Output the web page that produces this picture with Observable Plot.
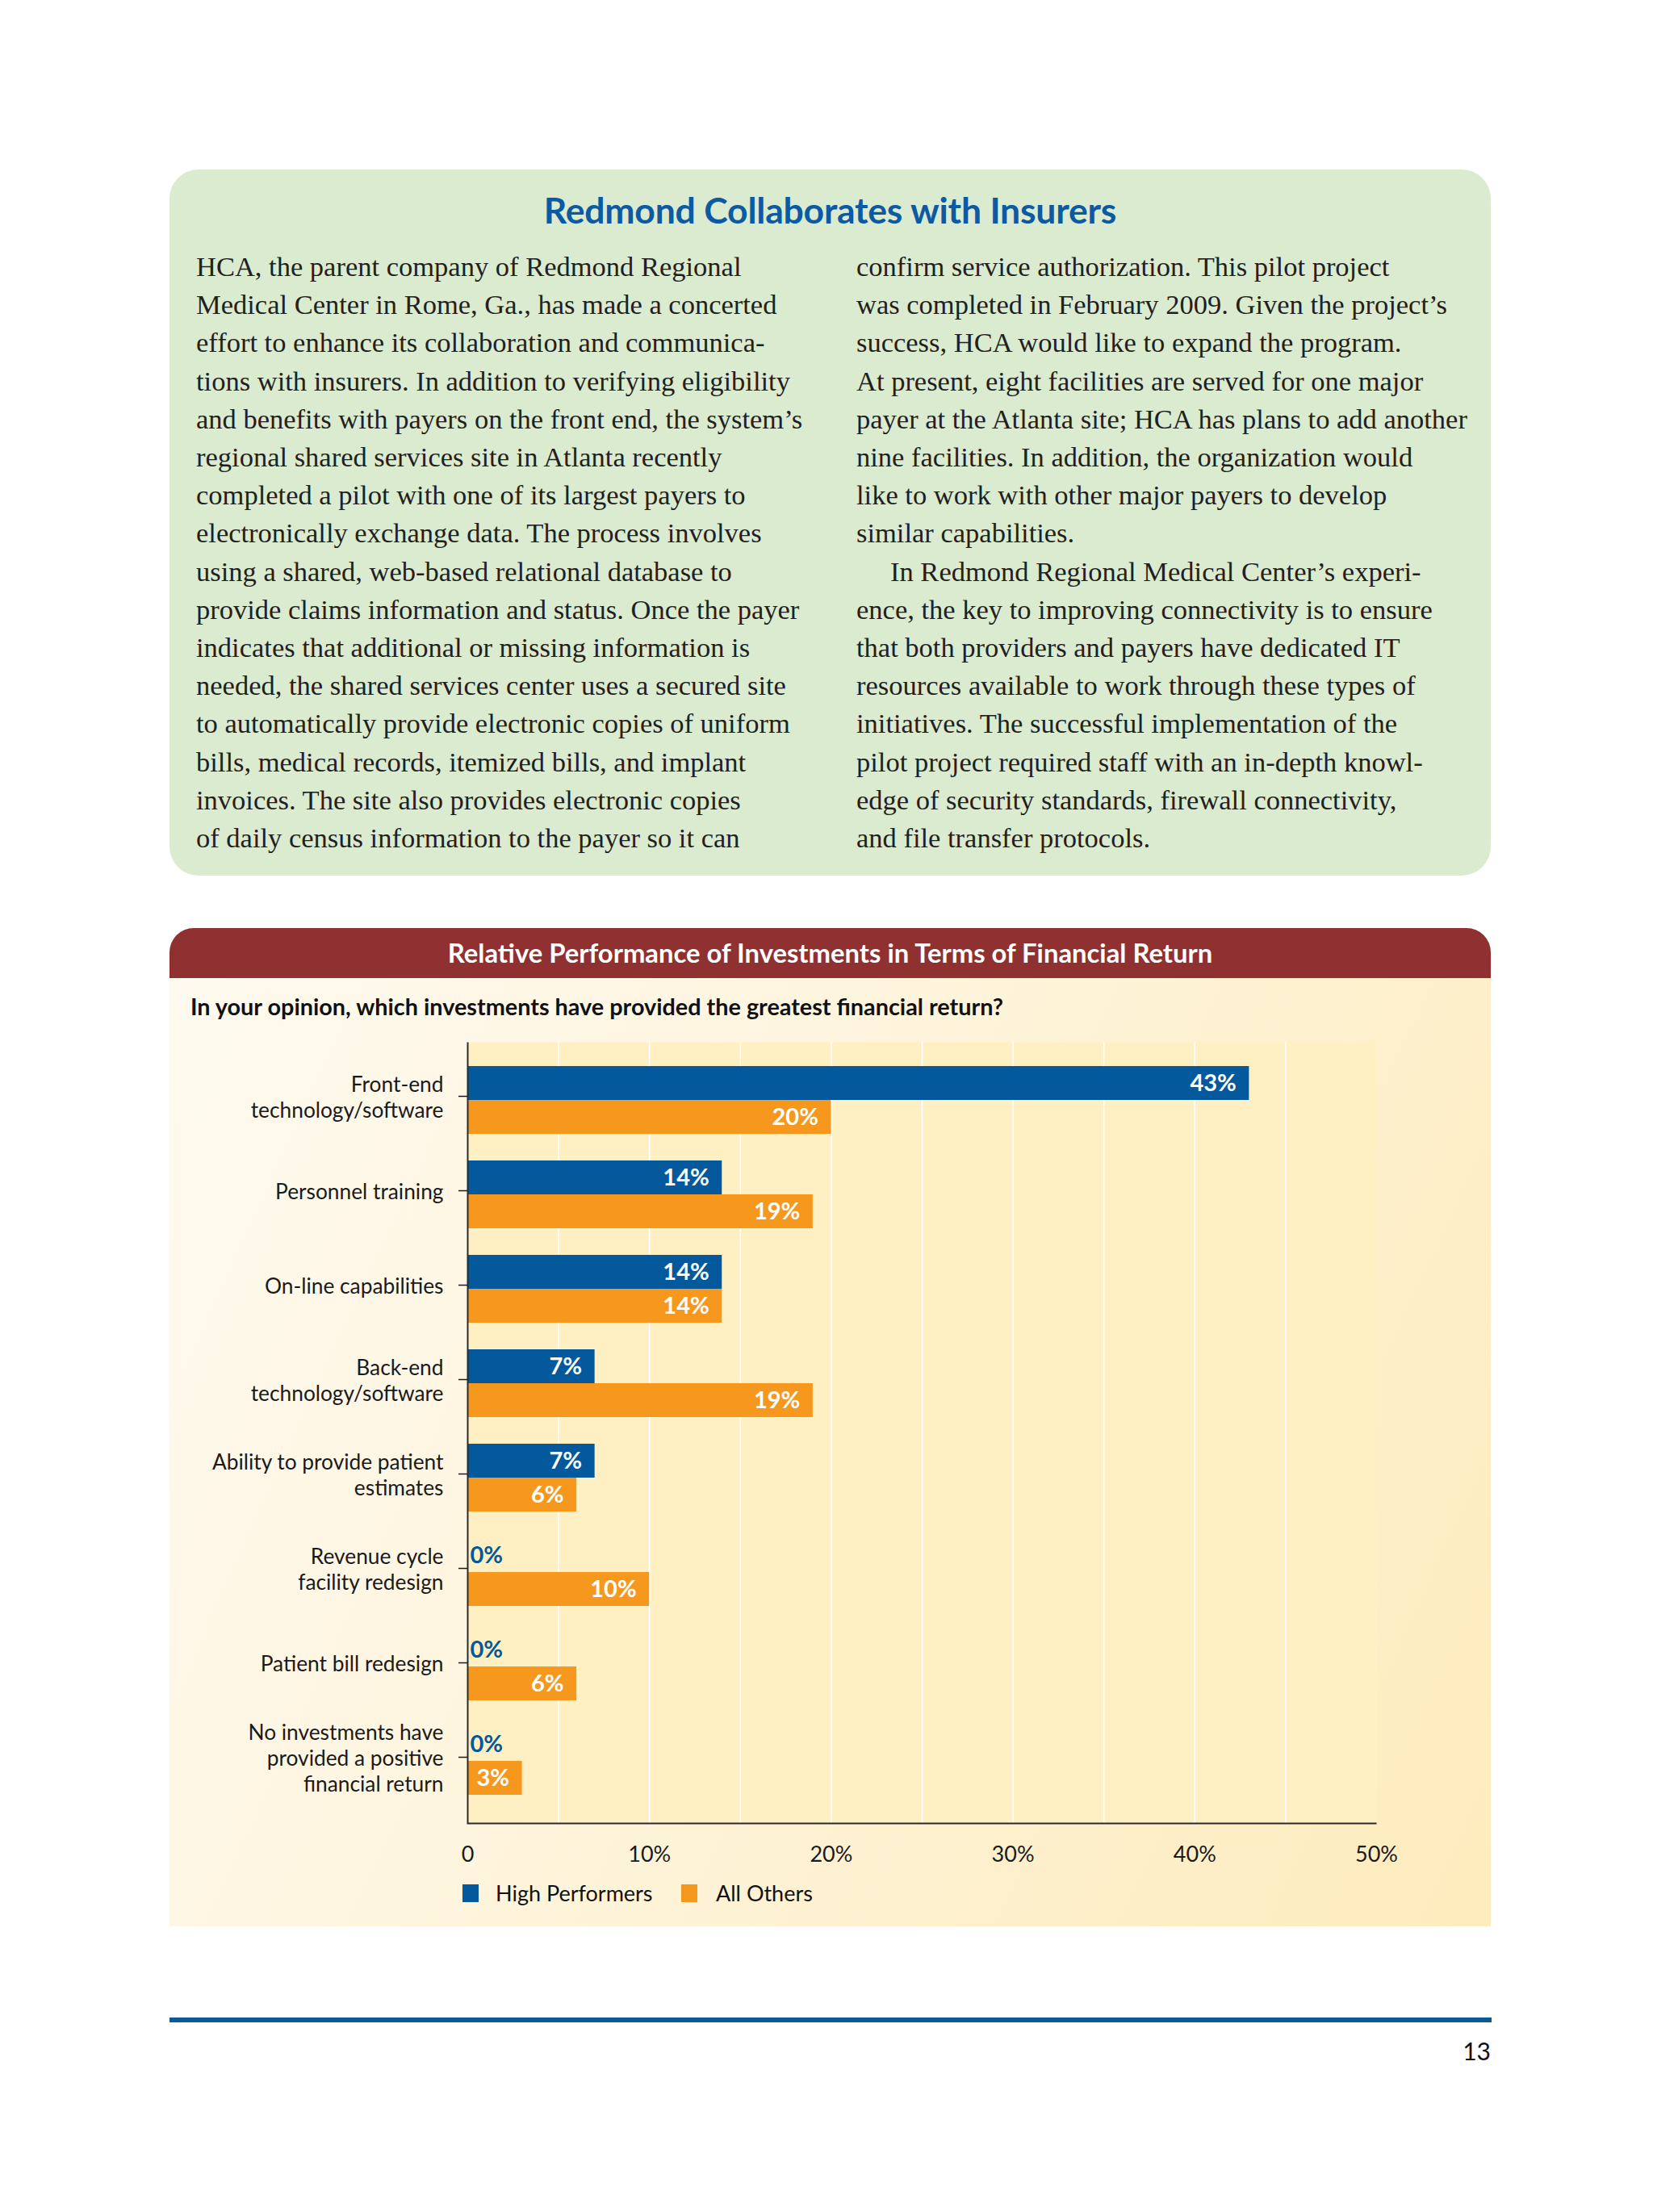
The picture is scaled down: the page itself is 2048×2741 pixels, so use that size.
<!DOCTYPE html>
<html>
<head>
<meta charset="utf-8">
<script src="https://cdn.jsdelivr.net/npm/d3@7"></script>
<script src="https://cdn.jsdelivr.net/npm/@observablehq/plot@0.6"></script>
<style>
  html, body { margin: 0; padding: 0; background: #ffffff; }
  body { width: 2048px; height: 2741px; position: relative; overflow: hidden; font-family: Lato, "Noto Sans", sans-serif; }
  .abs { position: absolute; }
  #greenbox { left: 210px; top: 210px; width: 1637px; height: 875px; background: #dbebd0; border-radius: 36px; }
  #boxtitle { left: 210px; width: 1637px; top: 233px; text-align: center; font: bold 44.5px/1.2 Lato, sans-serif; color: #0b5aa3; letter-spacing: -0.2px; }
  .col { top: 307px; font-family: "Liberation Serif", serif; font-size: 34.5px; line-height: 47.2px; color: #231f20; white-space: nowrap; }
  #colL { left: 243px; }
  #colR { left: 1061px; }
  .indent { padding-left: 42px; }
  #panel { left: 210px; top: 1150px; width: 1637px; height: 1237px; background: linear-gradient(115deg, #fffaf0 0%, #fef5de 40%, #fdefca 75%, #fdecbd 100%); border-radius: 30px 30px 0 0; overflow: hidden; }
  #panelhead { left: 0; top: 0; width: 1637px; height: 62px; background: #8f3131; }
  #headtext { left: 210px; width: 1637px; top: 1161px; text-align: center; font: bold 32.8px/1.2 Lato, sans-serif; color: #ffffff; }
  #subtitle { left: 236px; top: 1230px; font: bold 28.8px/1.2 Lato, sans-serif; color: #111; white-space: nowrap; }
  #chart { left: 210px; top: 1270px; }
  .sw { width: 20px; height: 22px; }
  .legtext { font: 27px/1.2 Lato, sans-serif; color: #111; white-space: nowrap; }
  #footline { left: 210px; top: 2500px; width: 1638px; height: 6px; background: #0a5a99; }
  #pagenum { right: 201px; top: 2523px; font: 30px/1.2 Lato, sans-serif; color: #111; }
</style>
</head>
<body>
<div id="greenbox" class="abs"></div>
<div id="boxtitle" class="abs">Redmond Collaborates with Insurers</div>
<div id="colL" class="abs col"></div>
<div id="colR" class="abs col"></div>

<div id="panel" class="abs"><div id="panelhead" class="abs"></div></div>
<div id="headtext" class="abs">Relative Performance of Investments in Terms of Financial Return</div>
<div id="subtitle" class="abs">In your opinion, which investments have provided the greatest financial return?</div>
<div id="chart" class="abs"></div>
<div id="legend"></div>

<div id="footline" class="abs"></div>
<div id="pagenum" class="abs">13</div>

<script>
// ---------- text box content ----------
const leftLines = [
  "HCA, the parent company of Redmond Regional",
  "Medical Center in Rome, Ga., has made a concerted",
  "effort to enhance its collaboration and communica-",
  "tions with insurers. In addition to verifying eligibility",
  "and benefits with payers on the front end, the system’s",
  "regional shared services site in Atlanta recently",
  "completed a pilot with one of its largest payers to",
  "electronically exchange data. The process involves",
  "using a shared, web-based relational database to",
  "provide claims information and status. Once the payer",
  "indicates that additional or missing information is",
  "needed, the shared services center uses a secured site",
  "to automatically provide electronic copies of uniform",
  "bills, medical records, itemized bills, and implant",
  "invoices. The site also provides electronic copies",
  "of daily census information to the payer so it can"
];
const rightLines = [
  "confirm service authorization. This pilot project",
  "was completed in February 2009. Given the project’s",
  "success, HCA would like to expand the program.",
  "At present, eight facilities are served for one major",
  "payer at the Atlanta site; HCA has plans to add another",
  "nine facilities. In addition, the organization would",
  "like to work with other major payers to develop",
  "similar capabilities.",
  "In Redmond Regional Medical Center’s experi-",
  "ence, the key to improving connectivity is to ensure",
  "that both providers and payers have dedicated IT",
  "resources available to work through these types of",
  "initiatives. The successful implementation of the",
  "pilot project required staff with an in-depth knowl-",
  "edge of security standards, firewall connectivity,",
  "and file transfer protocols."
];
const indentedRightLine = 8;

function fillCol(id, lines, indentIdx) {
  const el = document.getElementById(id);
  lines.forEach((t, i) => {
    const d = document.createElement("div");
    d.textContent = t;
    if (i === indentIdx) d.className = "indent";
    el.appendChild(d);
  });
}
fillCol("colL", leftLines, -1);
fillCol("colR", rightLines, indentedRightLine);

// ---------- chart data ----------
const categories = [
  "Front-end\ntechnology/software",
  "Personnel training",
  "On-line capabilities",
  "Back-end\ntechnology/software",
  "Ability to provide patient\nestimates",
  "Revenue cycle\nfacility redesign",
  "Patient bill redesign",
  "No investments have\nprovided a positive\nfinancial return"
];
const highPerformers = [43, 14, 14, 7, 7, 0, 0, 0];
const allOthers = [20, 19, 14, 19, 6, 10, 6, 3];
const seriesNames = ["High Performers", "All Others"];
const seriesColors = ["#03599b", "#f7981e"];
const xTickValues = [0, 10, 20, 30, 40, 50];
const xTickLabels = ["0", "10%", "20%", "30%", "40%", "50%"];
const gridValues = [5, 10, 15, 20, 25, 30, 35, 40, 45];

const rows = categories.map((c, i) => ({category: c, high: highPerformers[i], others: allOthers[i]}));

const W = 1637, H = 1050, mL = 369, mR = 142, mT = 21, mB = 61;
const innerW = W - mL - mR, innerH = H - mT - mB;
const half = 42; // each bar's thickness (half of the band)

const pct = v => v + "%";

const chart = Plot.plot({
  width: W,
  height: H,
  marginLeft: mL,
  marginRight: mR,
  marginTop: mT,
  marginBottom: mB,
  style: {background: "transparent", fontFamily: "Lato, sans-serif", color: "#1a1a1a", overflow: "visible"},
  x: {domain: [0, 50]},
  y: {domain: categories, paddingInner: 0.2835, paddingOuter: 0.27, align: 0.46},
  marks: [
    Plot.frame({fill: "#fff0c4", stroke: null}),
    Plot.gridX(gridValues, {stroke: "#ffffff", strokeOpacity: 1, strokeWidth: 1.5}),
    Plot.barX(rows, {y: "category", x: "high", fill: seriesColors[0], insetBottom: half}),
    Plot.barX(rows, {y: "category", x: "others", fill: seriesColors[1], insetTop: half}),
    Plot.text(rows.filter(d => d.high > 0), {y: "category", x: "high", text: d => pct(d.high), dy: -half / 2, dx: -16, textAnchor: "end", fill: "#ffffff", fontWeight: "bold", fontSize: 29}),
    Plot.text(rows.filter(d => d.high === 0), {y: "category", x: "high", text: d => pct(d.high), dy: -half / 2, dx: 3, textAnchor: "start", fill: seriesColors[0], fontWeight: "bold", fontSize: 29}),
    Plot.text(rows.filter(d => d.others > 0), {y: "category", x: "others", text: d => pct(d.others), dy: half / 2, dx: -16, textAnchor: "end", fill: "#ffffff", fontWeight: "bold", fontSize: 29}),
    Plot.frame({stroke: "#2a2a2a", strokeWidth: 2, strokeDasharray: `0,${innerW + innerH},${innerW + innerH},0`}),
    Plot.axisY({label: null, tickSize: 11, tickPadding: 19, fontSize: 26.3, lineHeight: 1.22, color: "#1a1a1a", strokeWidth: 1.5, dy: -5}),
    Plot.axisX(xTickValues, {label: null, tickSize: 0, tickPadding: 28, fontSize: 27, color: "#1a1a1a", tickFormat: d => xTickLabels[xTickValues.indexOf(d)]})
  ]
});
document.getElementById("chart").appendChild(chart);

// ---------- legend ----------
const legendPos = [{sx: 573, tx: 614}, {sx: 844, tx: 887}];
const legend = document.getElementById("legend");
seriesNames.forEach((name, i) => {
  const s = document.createElement("div");
  s.className = "abs sw";
  s.style.left = legendPos[i].sx + "px";
  s.style.top = "2335px";
  s.style.background = seriesColors[i];
  legend.appendChild(s);
  const t = document.createElement("div");
  t.className = "abs legtext";
  t.style.left = legendPos[i].tx + "px";
  t.style.top = "2330px";
  t.textContent = name;
  legend.appendChild(t);
});
</script>
</body>
</html>
